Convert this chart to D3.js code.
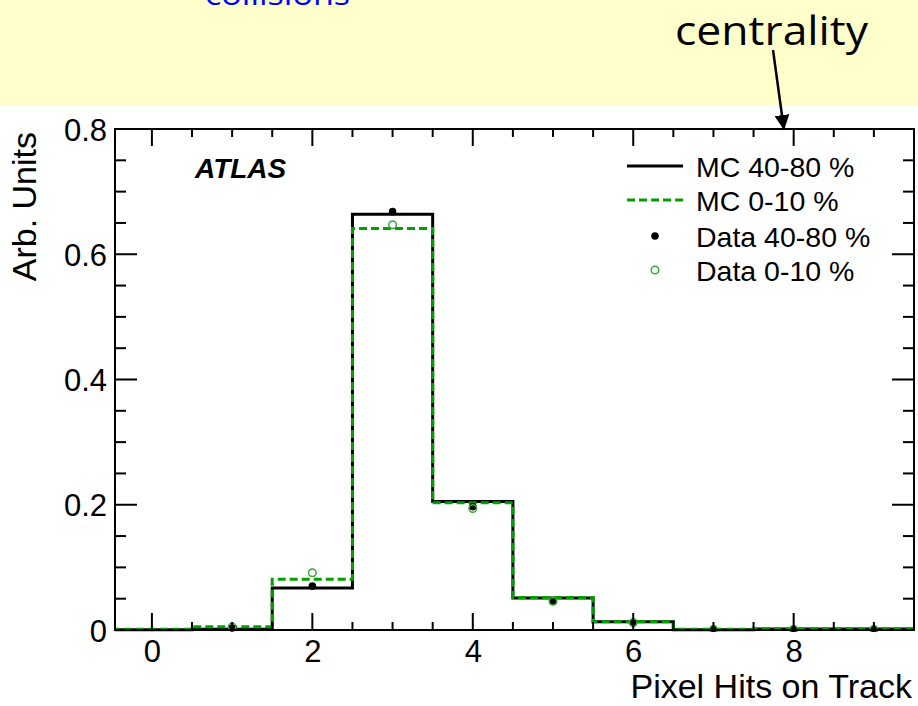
<!DOCTYPE html>
<html>
<head>
<meta charset="utf-8">
<script src="https://cdn.jsdelivr.net/npm/d3@7"></script>
<style>
  html, body { margin: 0; padding: 0; background: #ffffff; }
  svg { display: block; }
</style>
</head>
<body>
<svg id="chart" width="918" height="706"></svg>
<script>
// Pixel hits per track, normalised, for two centrality classes
const bins = [0, 1, 2, 3, 4, 5, 6, 7, 8, 9];
const mcPeripheral = [0.0005, 0.001, 0.067, 0.664, 0.205, 0.051, 0.013, 0.0005, 0.0015, 0.0015];
const mcCentral    = [0.001, 0.005, 0.081, 0.641, 0.203, 0.052, 0.013, 0.001, 0.002, 0.002];
const dataPeripheral = [null, 0.003, 0.070, 0.668, 0.197, 0.046, 0.011, 0.001, 0.001, 0.001];
const dataCentral    = [null, 0.005, 0.0915, 0.647, 0.194, 0.046, 0.012, 0.001, 0.001, 0.001];

const xTickValues = [0, 2, 4, 6, 8];
const yTickValues = [0, 0.2, 0.4, 0.6, 0.8];
const legendLabels = ["MC 40-80 %", "MC 0-10 %", "Data 40-80 %", "Data 0-10 %"];

const svg = d3.select("#chart");
const W = 918;
const plot = { left: 115, right: 914, top: 129, bottom: 630 };
const FONT = "'Liberation Sans', Arial, sans-serif";
const GREEN = "#00a000";
const GREEN_MARK = "#3aa83a";

// slide banner above the plot
svg.append("rect").attr("x", 0).attr("y", 0).attr("width", W).attr("height", 105)
  .attr("fill", "#ffffcc");
svg.append("text").attr("x", 205).attr("y", 5)
  .attr("font-family", "'Open Sans', sans-serif").attr("font-size", 30)
  .attr("fill", "#0000ff").attr("textLength", 145).attr("lengthAdjust", "spacingAndGlyphs")
  .text("collisions");
svg.append("text").attr("x", 675).attr("y", 45)
  .attr("font-family", "'Open Sans', sans-serif").attr("font-size", 40)
  .attr("fill", "#000").attr("textLength", 193).attr("lengthAdjust", "spacingAndGlyphs")
  .text("centrality");

// arrow from the annotation to the top axis
const defs = svg.append("defs");
defs.append("marker").attr("id", "arrowhead")
  .attr("viewBox", "0 0 10 10").attr("refX", 10).attr("refY", 5)
  .attr("markerWidth", 6).attr("markerHeight", 6).attr("markerUnits", "strokeWidth")
  .attr("orient", "auto")
  .append("path").attr("d", "M0,0 L10,5 L0,10 Z").attr("fill", "#000");
svg.append("line").attr("x1", 773).attr("y1", 50).attr("x2", 784).attr("y2", 130)
  .attr("stroke", "#000").attr("stroke-width", 2.5).attr("marker-end", "url(#arrowhead)");

// scales
const x = d3.scaleLinear().domain([-0.46, 9.5]).range([plot.left, plot.right]);
const y = d3.scaleLinear().domain([0, 0.8]).range([plot.bottom, plot.top]);

defs.append("clipPath").attr("id", "plotclip")
  .append("rect").attr("x", plot.left).attr("y", plot.top - 2)
  .attr("width", plot.right - plot.left).attr("height", plot.bottom - plot.top + 4);

// step outline of a unit-width histogram
function stepPoints(values) {
  const pts = [];
  bins.forEach((b, i) => {
    pts.push([b - 0.5, values[i]]);
    pts.push([b + 0.5, values[i]]);
  });
  return pts;
}
const stepLine = d3.line().x(d => x(d[0])).y(d => y(d[1]));

const g = svg.append("g").attr("clip-path", "url(#plotclip)");
g.append("path").attr("d", stepLine(stepPoints(mcPeripheral)))
  .attr("fill", "none").attr("stroke", "#000").attr("stroke-width", 3);
g.append("path").attr("d", stepLine(stepPoints(mcCentral)))
  .attr("fill", "none").attr("stroke", GREEN).attr("stroke-width", 3)
  .attr("stroke-dasharray", "8,4");

// data markers
const pPts = bins.map((b, i) => [b, dataPeripheral[i]]).filter(d => d[1] !== null);
const cPts = bins.map((b, i) => [b, dataCentral[i]]).filter(d => d[1] !== null);
g.selectAll("circle.per").data(pPts).join("circle").attr("class", "per")
  .attr("cx", d => x(d[0])).attr("cy", d => y(d[1])).attr("r", 3.8).attr("fill", "#000");
g.selectAll("circle.cen").data(cPts).join("circle").attr("class", "cen")
  .attr("cx", d => x(d[0])).attr("cy", d => y(d[1])).attr("r", 3.8)
  .attr("fill", "none").attr("stroke", GREEN_MARK).attr("stroke-width", 1.5);

// axes: major + minor ticks on all four sides
const xMinor = d3.range(0, 9.5001, 0.5).filter(v => !xTickValues.includes(v));
const yMinor = d3.range(0, 0.8001, 0.05).map(v => +v.toFixed(2)).filter(v => !yTickValues.includes(v));

const bottomAxis = d3.axisBottom(x).tickValues(xTickValues).tickFormat(d3.format("d")).tickSize(0).tickPadding(10);
const leftAxis = d3.axisLeft(y).tickValues(yTickValues).tickFormat(d => d === 0 ? "0" : d3.format(".1f")(d)).tickSize(0).tickPadding(8);

const ax = svg.append("g").attr("transform", `translate(0,${plot.bottom})`).call(bottomAxis);
ax.select(".domain").remove();
ax.selectAll("text").attr("font-family", FONT).attr("font-size", 31).attr("fill", "#000");

const ay = svg.append("g").attr("transform", `translate(${plot.left},0)`).call(leftAxis);
ay.select(".domain").remove();
ay.selectAll("text").attr("font-family", FONT).attr("font-size", 31).attr("fill", "#000")
  .attr("dy", "0.36em");

const ticks = svg.append("g").attr("stroke", "#000").attr("stroke-width", 2);
// x ticks (bottom pointing up, top pointing down)
xTickValues.forEach(v => {
  ticks.append("line").attr("x1", x(v)).attr("x2", x(v)).attr("y1", plot.bottom).attr("y2", plot.bottom - 17);
  ticks.append("line").attr("x1", x(v)).attr("x2", x(v)).attr("y1", plot.top).attr("y2", plot.top + 17);
});
xMinor.forEach(v => {
  ticks.append("line").attr("x1", x(v)).attr("x2", x(v)).attr("y1", plot.bottom).attr("y2", plot.bottom - 8);
  ticks.append("line").attr("x1", x(v)).attr("x2", x(v)).attr("y1", plot.top).attr("y2", plot.top + 8);
});
// y ticks (left pointing right, right pointing left)
yTickValues.forEach(v => {
  ticks.append("line").attr("x1", plot.left).attr("x2", plot.left + 22).attr("y1", y(v)).attr("y2", y(v));
  ticks.append("line").attr("x1", plot.right).attr("x2", plot.right - 22).attr("y1", y(v)).attr("y2", y(v));
});
yMinor.forEach(v => {
  ticks.append("line").attr("x1", plot.left).attr("x2", plot.left + 11).attr("y1", y(v)).attr("y2", y(v));
  ticks.append("line").attr("x1", plot.right).attr("x2", plot.right - 11).attr("y1", y(v)).attr("y2", y(v));
});
// frame
svg.append("rect").attr("x", plot.left).attr("y", plot.top)
  .attr("width", plot.right - plot.left).attr("height", plot.bottom - plot.top)
  .attr("fill", "none").attr("stroke", "#000").attr("stroke-width", 2);

// axis titles
svg.append("text").attr("x", 912).attr("y", 698).attr("text-anchor", "end")
  .attr("font-family", FONT).attr("font-size", 34).attr("fill", "#000")
  .text("Pixel Hits on Track");
svg.append("text").attr("transform", "translate(36,132) rotate(-90)")
  .attr("text-anchor", "end").attr("font-family", FONT).attr("font-size", 34).attr("fill", "#000")
  .text("Arb. Units");

// experiment label
svg.append("text").attr("x", 195).attr("y", 178)
  .attr("font-family", FONT).attr("font-size", 28).attr("font-weight", "bold")
  .attr("font-style", "italic").attr("fill", "#000").text("ATLAS");

// legend
const legY = [166, 200, 236, 270];
const leg = svg.append("g");
leg.append("line").attr("x1", 627).attr("x2", 683).attr("y1", legY[0]).attr("y2", legY[0])
  .attr("stroke", "#000").attr("stroke-width", 3);
leg.append("line").attr("x1", 627).attr("x2", 683).attr("y1", legY[1]).attr("y2", legY[1])
  .attr("stroke", GREEN).attr("stroke-width", 3).attr("stroke-dasharray", "8,4");
leg.append("circle").attr("cx", 655).attr("cy", legY[2]).attr("r", 3.8).attr("fill", "#000");
leg.append("circle").attr("cx", 655).attr("cy", legY[3]).attr("r", 3.8)
  .attr("fill", "none").attr("stroke", GREEN_MARK).attr("stroke-width", 1.5);
legendLabels.forEach((t, i) => {
  leg.append("text").attr("x", 696).attr("y", legY[i] + 11)
    .attr("font-family", FONT).attr("font-size", 28.5).attr("fill", "#000").text(t);
});
</script>
</body>
</html>
